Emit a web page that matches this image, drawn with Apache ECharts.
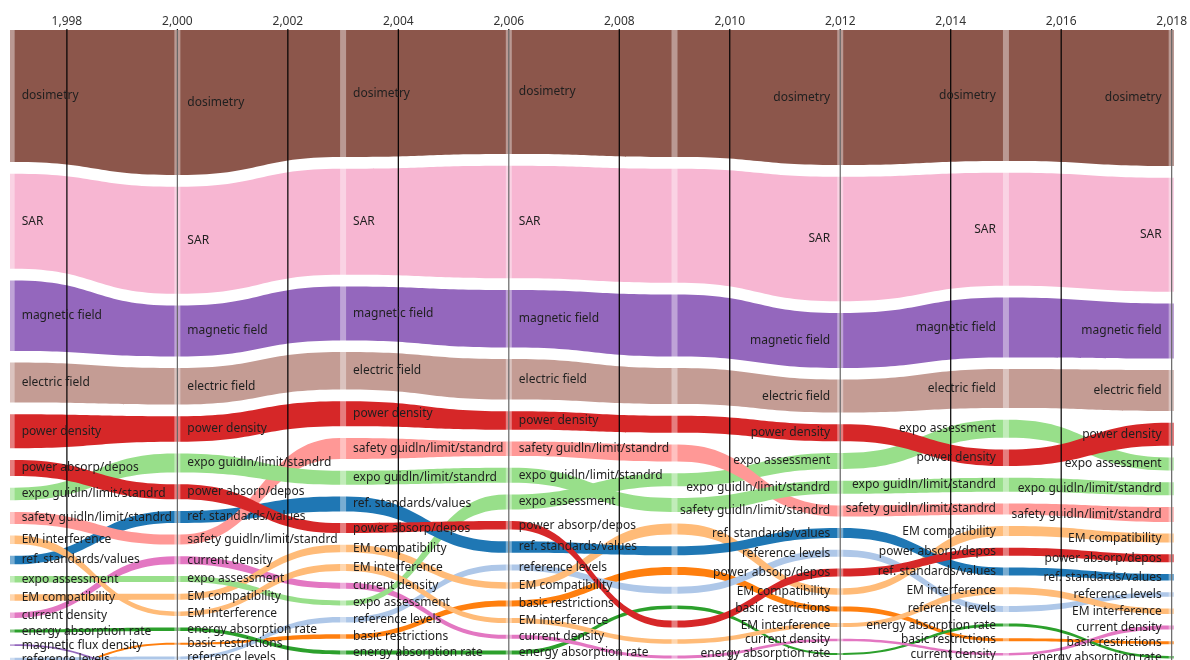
<!DOCTYPE html>
<html>
<head>
<meta charset="utf-8">
<script src="https://cdn.jsdelivr.net/npm/echarts@6/dist/echarts.min.js"></script>
<style>
  html, body { margin: 0; padding: 0; background: #ffffff; }
  #chart { width: 1190px; height: 660px; }
</style>
</head>
<body>
<div id="chart"></div>
<script>
// Period boundaries where every keyword gets a node, and the axis ticks.
const years = [1997, 2000, 2003, 2006, 2009, 2012, 2015, 2018];
const tickYears = [1998, 2000, 2002, 2004, 2006, 2008, 2010, 2012, 2014, 2016, 2018];
const labelledYears = [1997, 2000, 2003, 2006, 2012, 2015, 2018];

const keywords = [
  'dosimetry', 'SAR', 'magnetic field', 'electric field', 'power density',
  'power absorp/depos', 'expo guidln/limit/standrd', 'safety guidln/limit/standrd',
  'EM interference', 'ref. standards/values', 'expo assessment', 'EM compatibility',
  'current density', 'energy absorption rate', 'magnetic flux density',
  'reference levels', 'basic restrictions'
];

// Rank order (top to bottom) of the keywords at each node, with their weights.
const order1997 = ['dosimetry', 'SAR', 'magnetic field', 'electric field', 'power density',
  'power absorp/depos', 'expo guidln/limit/standrd', 'safety guidln/limit/standrd',
  'EM interference', 'ref. standards/values', 'expo assessment', 'EM compatibility',
  'current density', 'energy absorption rate', 'magnetic flux density', 'reference levels',
  'basic restrictions'];
const weight1997 = [132, 95, 70.5, 40, 34, 16, 12.5, 12, 8.5, 8.5, 6.5, 6.5, 5.5, 3, 1.7, 3, 2];

const order2000 = ['dosimetry', 'SAR', 'magnetic field', 'electric field', 'power density',
  'expo guidln/limit/standrd', 'power absorp/depos', 'ref. standards/values',
  'safety guidln/limit/standrd', 'current density', 'expo assessment', 'EM compatibility',
  'EM interference', 'energy absorption rate', 'basic restrictions', 'reference levels',
  'magnetic flux density'];
const weight2000 = [145, 107, 51, 36.5, 25.5, 19, 15, 12, 10, 8, 6, 6, 4.5, 3.5, 2, 3, 1.5];

const order2003 = ['dosimetry', 'SAR', 'magnetic field', 'electric field', 'power density',
  'safety guidln/limit/standrd', 'expo guidln/limit/standrd', 'ref. standards/values',
  'power absorp/depos', 'EM compatibility', 'EM interference', 'current density',
  'expo assessment', 'reference levels', 'basic restrictions', 'energy absorption rate',
  'magnetic flux density'];
const weight2003 = [127, 106, 54, 37.5, 25, 21, 14, 15, 10, 7.5, 7, 6, 5, 5.5, 4.5, 4, 1.5];

const order2006 = ['dosimetry', 'SAR', 'magnetic field', 'electric field', 'power density',
  'safety guidln/limit/standrd', 'expo guidln/limit/standrd', 'expo assessment',
  'power absorp/depos', 'ref. standards/values', 'reference levels', 'EM compatibility',
  'basic restrictions', 'EM interference', 'current density', 'energy absorption rate',
  'magnetic flux density'];
const weight2006 = [124, 112.5, 57.5, 40.5, 18.5, 14.5, 15, 15, 8.5, 11.5, 6, 6.5, 6, 5, 4, 4, 1.5];

const order2009 = ['dosimetry', 'SAR', 'magnetic field', 'electric field', 'power density',
  'safety guidln/limit/standrd', 'expo assessment', 'expo guidln/limit/standrd',
  'EM compatibility', 'ref. standards/values', 'basic restrictions', 'reference levels',
  'energy absorption rate', 'power absorp/depos', 'EM interference', 'current density',
  'magnetic flux density'];
const weight2009 = [127, 114, 62, 36, 17, 17, 13, 14, 11, 9, 8, 7, 3.5, 7, 4.5, 3, 1.5];

const order2012 = ['dosimetry', 'SAR', 'magnetic field', 'electric field', 'power density',
  'expo assessment', 'expo guidln/limit/standrd', 'safety guidln/limit/standrd',
  'ref. standards/values', 'reference levels', 'power absorp/depos', 'EM compatibility',
  'basic restrictions', 'EM interference', 'current density', 'energy absorption rate',
  'magnetic flux density'];
const weight2012 = [135, 124.5, 55, 33, 17, 16, 13, 11, 10, 7, 8, 6.5, 5, 4, 2.5, 2, 1.5];

const order2015 = ['dosimetry', 'SAR', 'magnetic field', 'electric field', 'expo assessment',
  'power density', 'expo guidln/limit/standrd', 'safety guidln/limit/standrd',
  'EM compatibility', 'power absorp/depos', 'ref. standards/values', 'EM interference',
  'reference levels', 'energy absorption rate', 'basic restrictions', 'current density',
  'magnetic flux density'];
const weight2015 = [131, 113, 60, 39, 18, 16.5, 14, 11, 10, 8, 8, 7, 6, 3, 3, 2.5, 1.5];

const order2018 = ['dosimetry', 'SAR', 'magnetic field', 'electric field', 'power density',
  'expo assessment', 'expo guidln/limit/standrd', 'safety guidln/limit/standrd',
  'EM compatibility', 'power absorp/depos', 'ref. standards/values', 'reference levels',
  'EM interference', 'current density', 'basic restrictions', 'energy absorption rate',
  'magnetic flux density'];
const weight2018 = [136, 114, 55, 41, 23, 13, 13, 15, 9, 8, 6.5, 4.5, 5.5, 4, 3, 2.5, 1.5];

// Colours per keyword.
const palette = {
  'dosimetry': '#8c564b',
  'SAR': '#f7b6d2',
  'magnetic field': '#9467bd',
  'electric field': '#c49c94',
  'power density': '#d62728',
  'power absorp/depos': '#d62728',
  'expo guidln/limit/standrd': '#98df8a',
  'safety guidln/limit/standrd': '#ff9896',
  'EM interference': '#ffbb78',
  'ref. standards/values': '#1f77b4',
  'expo assessment': '#98df8a',
  'EM compatibility': '#ffbb78',
  'current density': '#e377c2',
  'energy absorption rate': '#2ca02c',
  'magnetic flux density': '#9467bd',
  'reference levels': '#aec7e8',
  'basic restrictions': '#ff7f0e'
};

const orders = [order1997, order2000, order2003, order2006, order2009, order2012, order2015, order2018];
const weights = [weight1997, weight2000, weight2003, weight2006, weight2009, weight2012, weight2015, weight2018];

const BAND_GAP = 11.7;   // vertical padding between stacked bands (value units)
const NODE_HALF = 3;     // half width of the flat node section, px
const FONT = '"Noto Sans", "DejaVu Sans", sans-serif';

// Stack every node column from the top: keyword -> [{top, bottom}] per node.
const layout = {};
orders.forEach((ord, j) => {
  let y = 0;
  ord.forEach((k, i) => {
    const w = weights[j][i];
    if (!layout[k]) layout[k] = [];
    layout[k][j] = { top: y, bottom: y + w };
    y += w + BAND_GAP;
  });
});

// Smaller keywords first so the main bands sit on top where they cross.
const drawOrder = keywords.slice().reverse();

const bandData = drawOrder.map(k => [years[0], 0, keywords.indexOf(k)]);

const labelData = [];
labelledYears.forEach(yr => {
  const j = years.indexOf(yr);
  orders[j].forEach(k => {
    const n = layout[k][j];
    labelData.push([yr, (n.top + n.bottom) / 2, keywords.indexOf(k), j < 4 ? 1 : -1]);
  });
});

function bandPath(api, k) {
  const nodes = layout[k];
  const pts = nodes.map((n, j) => {
    const a = api.coord([years[j], n.top]);
    const b = api.coord([years[j], n.bottom]);
    return { x: a[0], yt: a[1], yb: b[1] };
  });
  const h = NODE_HALF;
  let d = 'M' + (pts[0].x - h) + ',' + pts[0].yt + ' L' + (pts[0].x + h) + ',' + pts[0].yt;
  for (let j = 1; j < pts.length; j++) {
    const a = pts[j - 1], b = pts[j];
    const x0 = a.x + h, x1 = b.x - h, mx = (x0 + x1) / 2;
    d += ' C' + mx + ',' + a.yt + ' ' + mx + ',' + b.yt + ' ' + x1 + ',' + b.yt;
    d += ' L' + (b.x + h) + ',' + b.yt;
  }
  const last = pts[pts.length - 1];
  d += ' L' + (last.x + h) + ',' + last.yb + ' L' + (last.x - h) + ',' + last.yb;
  for (let j = pts.length - 1; j > 0; j--) {
    const a = pts[j], b = pts[j - 1];
    const x0 = a.x - h, x1 = b.x + h, mx = (x0 + x1) / 2;
    d += ' C' + mx + ',' + a.yb + ' ' + mx + ',' + b.yb + ' ' + x1 + ',' + b.yb;
    d += ' L' + (b.x - h) + ',' + b.yb;
  }
  return d + ' Z';
}

const chart = echarts.init(document.getElementById('chart'), null, { renderer: 'canvas' });

chart.setOption({
  animation: false,
  backgroundColor: '#ffffff',
  grid: { left: 10, right: 14, top: 30, bottom: 0 },
  xAxis: {
    type: 'value',
    position: 'top',
    min: 1996.97,
    max: 2018.036,
    axisLine: { show: false },
    axisTick: { show: false, customValues: tickYears },
    splitLine: { show: false },
    axisLabel: {
      customValues: tickYears,
      margin: 2,
      color: '#333333',
      fontSize: 12,
      fontFamily: FONT,
      formatter: v => Number(v).toLocaleString('en-US')
    }
  },
  yAxis: { type: 'value', min: 0, max: 630, inverse: true, show: false },
  series: [
    {
      type: 'custom',
      name: 'bands',
      z: 1,
      clip: true,
      silent: true,
      data: bandData,
      renderItem(params, api) {
        const k = keywords[api.value(2)];
        return {
          type: 'path',
          shape: { pathData: bandPath(api, k) },
          style: { fill: palette[k] }
        };
      }
    },
    {
      type: 'custom',
      name: 'grid lines',
      z: 2,
      silent: true,
      data: tickYears.map(y => [y, 0]),
      renderItem(params, api) {
        const p0 = api.coord([api.value(0), 0]);
        const p1 = api.coord([api.value(0), 630]);
        return {
          type: 'line',
          shape: { x1: p0[0], y1: p0[1] - 1, x2: p1[0], y2: p1[1] },
          style: { stroke: '#000000', lineWidth: 1.2 }
        };
      }
    },
    {
      type: 'custom',
      name: 'nodes',
      z: 3,
      clip: true,
      silent: true,
      data: years.map(y => [y, 0]),
      renderItem(params, api) {
        const p0 = api.coord([api.value(0), 0]);
        const p1 = api.coord([api.value(0), 630]);
        return {
          type: 'rect',
          shape: { x: p0[0] - NODE_HALF, y: p0[1], width: NODE_HALF * 2, height: p1[1] - p0[1] },
          style: { fill: 'rgba(255,255,255,0.4)' }
        };
      }
    },
    {
      type: 'custom',
      name: 'labels',
      z: 4,
      silent: true,
      data: labelData,
      renderItem(params, api) {
        const p = api.coord([api.value(0), api.value(1)]);
        const side = api.value(3);
        return {
          type: 'text',
          x: p[0] + side * 10,
          y: p[1],
          style: {
            text: keywords[api.value(2)],
            fill: '#1f1f1f',
            fontSize: 12,
            fontFamily: FONT,
            align: side > 0 ? 'left' : 'right',
            verticalAlign: 'middle'
          }
        };
      }
    }
  ]
});
</script>
</body>
</html>
